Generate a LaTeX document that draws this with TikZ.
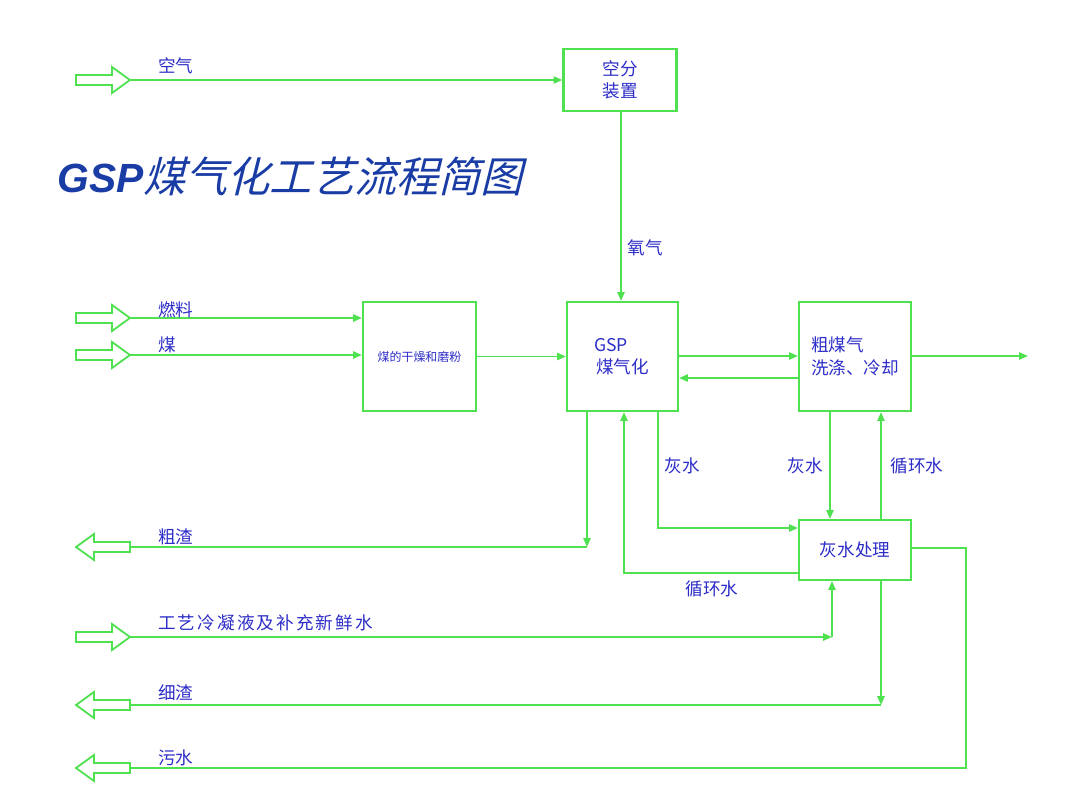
\documentclass[tikz,border=0pt]{standalone}
\usepackage{fontspec}
\setmainfont{Noto Sans CJK SC}
\newfontfamily\cjk{Noto Sans CJK SC}
\newfontfamily\cjkslant[FakeSlant=0.25]{Noto Sans CJK SC}
\newfontfamily\latinbi{Liberation Sans}
\usetikzlibrary{arrows.meta}
\definecolor{lg}{RGB}{80,225,80}
\definecolor{lbl}{RGB}{45,45,200}
\definecolor{ttl}{RGB}{25,60,165}
\tikzset{
  flow/.style={draw=lg, line width=1.3pt, -{Triangle[length=2.2mm,width=1.8mm]}},
  line/.style={draw=lg, line width=1.3pt},
  blk/.style={draw=lg, line width=1.3pt, line join=miter},
  box/.style={draw=lg, line width=1.5pt, inner sep=0pt, text=lbl, font=\cjk\fontsize{12.5}{16}\selectfont, align=center},
  lab/.style={text=lbl, font=\cjk\fontsize{12.5}{14}\selectfont, inner sep=0pt},
  rblk/.pic={\draw[blk] (-54,-5) -- (-18,-5) -- (-18,-13) -- (0,0) -- (-18,13) -- (-18,5) -- (-54,5) -- cycle;},
  lblk/.pic={\draw[blk] (0,-5) -- (-36,-5) -- (-36,-13) -- (-54,0) -- (-36,13) -- (-36,5) -- (0,5) -- cycle;}
}
\begin{document}
\begin{tikzpicture}[x=0.025cm, y=-0.025cm]
\useasboundingbox (0,0) rectangle (1080,810);

% title
\node[anchor=west, inner sep=0pt, text=ttl] (title) at (57,176)
  {{\latinbi\fontsize{29}{32}\selectfont\bfseries\itshape GSP}{\cjkslant\fontsize{30}{32}\selectfont 煤气化工艺流程简图}};

% boxes
\node[box, minimum width=113*0.25mm, minimum height=62*0.25mm] (asu) at (620,80) {空分\\装置};
\node[box, minimum width=113*0.25mm, minimum height=109*0.25mm, font=\cjk\fontsize{8.5}{10}\selectfont] (dry) at (419.5,356.5) {煤的干燥和磨粉};
\node[box, minimum width=111*0.25mm, minimum height=109*0.25mm] (gsp) at (622.5,356.5) {GSP\hspace*{1.3em}\\煤气化};
\node[box, minimum width=112*0.25mm, minimum height=109*0.25mm, align=left] (wash) at (855,356.5) {粗煤气\\洗涤、冷却};
\node[box, minimum width=112*0.25mm, minimum height=60*0.25mm] (ash) at (855,550) {灰水处理};

% block arrows (inputs / outputs)
\coordinate (airIn) at (130,80);
\coordinate (fuelIn) at (130,318);
\coordinate (coalIn) at (130,355);
\coordinate (slagOut) at (130,547);
\coordinate (condIn) at (130,637);
\coordinate (fineOut) at (130,705);
\coordinate (sewOut) at (130,768);
\pic at (airIn) {rblk};
\pic at (fuelIn) {rblk};
\pic at (coalIn) {rblk};
\pic at (slagOut) {lblk};
\pic at (condIn) {rblk};
\pic at (fineOut) {lblk};
\pic at (sewOut) {lblk};

% turn points
\coordinate (gasOut) at (1028,356);
\coordinate (slagC) at (587,547);
\coordinate (ashC) at (658,528);
\coordinate (recC) at (624,573);
\coordinate (washDown) at (830,0);
\coordinate (washUp) at (881,0);
\coordinate (condC) at (832,637);
\coordinate (fineC) at (881,705);
\coordinate (sewA) at (966,548);
\coordinate (sewB) at (966,768);
\coordinate (gasY) at (0,356);
\coordinate (backY) at (0,378);
\coordinate (o2X) at (621,0);

% connectors
\draw[flow] (airIn) -- (airIn -| asu.west);
\draw[flow] (asu.south -| o2X) -- (gsp.north -| o2X);
\draw[flow] (fuelIn) -- (fuelIn -| dry.west);
\draw[flow] (coalIn) -- (coalIn -| dry.west);
\draw[flow] (dry.east) -- (gsp.west);
\draw[flow] (gsp.east |- gasY) -- (wash.west |- gasY);
\draw[flow] (wash.west |- backY) -- (gsp.east |- backY);
\draw[flow] (wash.east |- gasY) -- (gasOut);
\draw[flow] (gsp.south -| slagC) -- (slagC);
\draw[line] (slagC) -- (slagOut);
\draw[flow] (gsp.south -| ashC) -- (ashC) -- (ash.west |- ashC);
\draw[flow] (ash.west |- recC) -- (recC) -- (gsp.south -| recC);
\draw[flow] (wash.south -| washDown) -- (ash.north -| washDown);
\draw[flow] (ash.north -| washUp) -- (wash.south -| washUp);
\draw[flow] (condIn) -- (condC);
\draw[flow] (condC) -- (ash.south -| condC);
\draw[flow] (ash.south -| fineC) -- (fineC);
\draw[line] (fineC) -- (fineOut);
\draw[line] (ash.east |- sewA) -- (sewA) -- (sewB) -- (sewOut);

% labels
\node[lab, anchor=west] (lAir) at (158,66) {空气};
\node[lab] (lO2) at (645,248) {氧气};
\node[lab, anchor=west] (lFuel) at (158,310) {燃料};
\node[lab, anchor=west] (lCoal) at (158,345) {煤};
\node[lab] (lAsh1) at (682,466) {灰水};
\node[lab] (lAsh2) at (805,466) {灰水};
\node[lab] (lRec1) at (917,466) {循环水};
\node[lab] (lRec2) at (712,589) {循环水};
\node[lab, anchor=west] (lSlag) at (158,537) {粗渣};
\node[lab, anchor=west, font=\cjk\fontsize{12.5}{14}\selectfont\addfontfeature{LetterSpace=12}] (lCond) at (158,623) {工艺冷凝液及补充新鲜水};
\node[lab, anchor=west] (lFine) at (158,693) {细渣};
\node[lab, anchor=west] (lSew) at (158,758) {污水};
\end{tikzpicture}
\end{document}
